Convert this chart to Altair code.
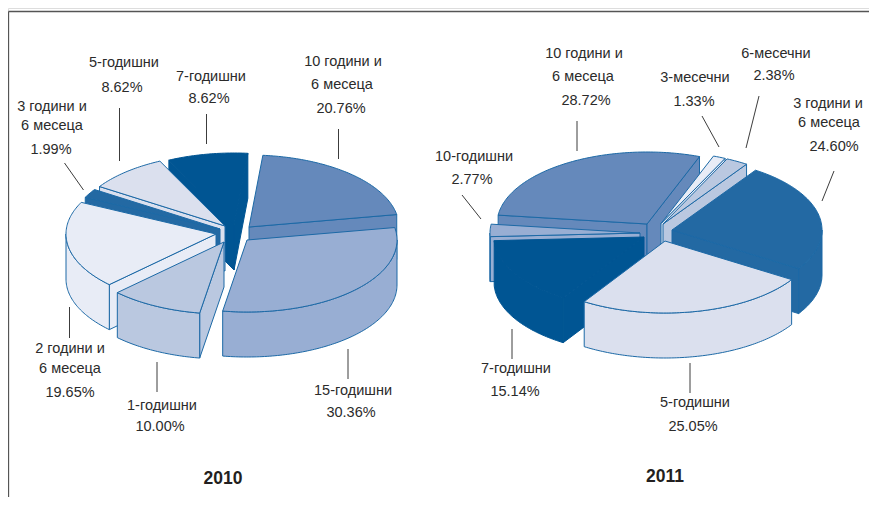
import math
import altair as alt
import pandas as pd

# ---- chart values (share of each maturity, per cent, clockwise order) ----
names_2010 = ["10 години и 6 месеца", "15-годишни", "1-годишни", "2 години и 6 месеца",
              "3 години и 6 месеца", "5-годишни", "7-годишни"]
values_2010 = [20.76, 30.36, 10.00, 19.65, 1.99, 8.62, 8.62]
names_2011 = ["10 години и 6 месеца", "3-месечни", "6-месечни", "3 години и 6 месеца",
              "5-годишни", "7-годишни", "10-годишни"]
values_2011 = [28.72, 1.33, 2.38, 24.60, 25.05, 15.14, 2.77]

# ---- layout: page-pixel frame, pie projection, explosion centres, styling ----
W, H = 861, 489
RX, RY, DEPTH = 150, 72, 45
colors = {"10 години и 6 месеца": "#6589bb", "15-годишни": "#98aed3", "1-годишни": "#bac8e0",
          "2 години и 6 месеца": "#e8ecf6", "3 години и 6 месеца": "#2369a3", "5-годишни": "#dbe0ee",
          "7-годишни": "#005593", "3-месечни": "#e8ecf6", "6-месечни": "#bac8e0", "10-годишни": "#98aed3"}
EDGE = "#1c69a6"

# start angle (deg clockwise from top) of first slice, apex of every slice, paint order
pie_2010 = dict(names=names_2010, values=values_2010, start=5.3,
                apex={"10 години и 6 месеца": (249, 227), "15-годишни": (247, 240), "1-годишни": (224, 242),
                      "2 години и 6 месеца": (216, 234), "3 години и 6 месеца": (220, 229),
                      "5-годишни": (225, 226), "7-годишни": (234, 225)},
                order=["7-годишни", "5-годишни", "3 години и 6 месеца", "2 години и 6 месеца",
                       "10 години и 6 месеца", "1-годишни", "15-годишни"])
pie_2011 = dict(names=names_2011, values=values_2011, start=277.1,
                apex={"10 години и 6 месеца": (647, 224), "3-месечни": (661, 223.5), "6-месечни": (663, 224),
                      "3 години и 6 месеца": (672, 230), "5-годишни": (665, 241), "7-годишни": (644, 237),
                      "10-годишни": (640, 233)},
                order=["10 години и 6 месеца", "3-месечни", "6-месечни", "10-годишни",
                       "3 години и 6 месеца", "7-годишни", "5-годишни"])


def polygons(pie, tag):
    spans, a = {}, pie["start"]
    for n, v in zip(pie["names"], pie["values"]):
        spans[n] = (a, a + v * 3.6)
        a += v * 3.6
    out = []

    def add(pid, pts, fill):
        stroke = fill if fill == colors["7-годишни"] else EDGE
        for i, (x, y) in enumerate(pts + pts[:1]):
            out.append(dict(poly=pid, i=i, x=x, y=y, fill=fill, stroke=stroke))

    for k, n in enumerate(pie["order"]):
        a, b = spans[n]
        ax, ay = pie["apex"][n]
        fill = colors[n]

        def rim(t, dz=0):
            r = math.radians(t)
            return (ax + RX * math.sin(r), ay - RY * math.cos(r) + dz)

        def arc(t0, t1, dz=0):
            steps = max(2, int(abs(t1 - t0)))
            return [rim(t0 + (t1 - t0) * j / steps, dz) for j in range(steps + 1)]

        base = f"{tag}{k:02d}"
        if math.sin(math.radians(a)) < 0:  # leading radial wall faces the viewer
            p = rim(a)
            add(base + "a", [(ax, ay), p, (p[0], p[1] + DEPTH), (ax, ay + DEPTH)], fill)
        if math.sin(math.radians(b)) > 0:  # trailing radial wall faces the viewer
            p = rim(b)
            add(base + "b", [(ax, ay), p, (p[0], p[1] + DEPTH), (ax, ay + DEPTH)], fill)
        for off in (0, 360):  # outer wall: front half of the rim only
            lo, hi = max(a, 90 + off), min(b, 270 + off)
            if hi > lo:
                add(base + f"c{off}", arc(lo, hi) + arc(hi, lo, DEPTH), fill)
        add(base + "d", [(ax, ay)] + arc(a, b), fill)
    return out


rows = polygons(pie_2010, "A") + polygons(pie_2011, "B")
df = pd.DataFrame(rows)

# ---- label text with its page position ----
label_text = [
    ("10 години и", 343, 62), ("6 месеца", 342, 85), ("20.76%", 341, 109),
    ("5-годишни", 124, 63), ("8.62%", 122, 88),
    ("7-годишни", 211, 77), ("8.62%", 209, 99),
    ("3 години и", 52, 107), ("6 месеца", 52, 126), ("1.99%", 51, 150),
    ("2 години и", 70, 349), ("6 месеца", 70, 369), ("19.65%", 70, 393),
    ("1-годишни", 162, 406), ("10.00%", 160, 427),
    ("15-годишни", 353, 391), ("30.36%", 351, 413),
    ("10 години и", 584, 54), ("6 месеца", 583, 77), ("28.72%", 586, 101),
    ("3-месечни", 695, 78), ("1.33%", 694, 102),
    ("6-месечни", 776, 54), ("2.38%", 774, 76),
    ("3 години и", 828, 104), ("6 месеца", 829, 123), ("24.60%", 834, 147),
    ("10-годишни", 474, 157), ("2.77%", 472, 180),
    ("7-годишни", 516, 369), ("15.14%", 515, 392),
    ("5-годишни", 695, 403), ("25.05%", 693, 427),
]
titles = [("2010", 223, 479), ("2011", 665, 477)]
leaders = [
    (119.5, 108, 119.5, 161), (206.5, 114, 206.5, 144), (338.5, 129, 338.5, 159),
    (64.5, 163, 83.5, 190), (69.5, 307, 69.5, 338), (157, 362, 157, 392), (348, 349, 348, 379),
    (577, 121, 577, 151), (702, 116, 719, 147), (759, 96, 746, 148), (834, 171, 822, 201),
    (462, 195, 481, 219), (512, 329, 512, 359), (690, 363, 690, 393),
]
frame = [(8.5, 11.5, 869, 11.5), (8.5, 11.5, 8.5, 497)]

xs = alt.Scale(domain=[8, 8 + W], range=[0, W], nice=False, zero=False)
ys = alt.Scale(domain=[8, 8 + H], range=[0, H], nice=False, zero=False)
X = lambda f="x": alt.X(f"{f}:Q", scale=xs, axis=None)
Y = lambda f="y": alt.Y(f"{f}:Q", scale=ys, axis=None)

pies = alt.Chart(df).mark_line(strokeWidth=1, strokeJoin="round").encode(
    x=X(), y=Y(), detail="poly:N", order="i:Q",
    fill=alt.Fill("fill:N", scale=None), stroke=alt.Stroke("stroke:N", scale=None),
)


def segs(data, color, width):
    d = pd.DataFrame(data, columns=["x", "y", "x2", "y2"])
    return alt.Chart(d).mark_rule(color=color, strokeWidth=width).encode(
        x=X(), y=Y(), x2="x2:Q", y2="y2:Q")


lines = segs(leaders, "#3c3c3c", 1)
border = segs(frame, "#555555", 1.3)

labels = alt.Chart(pd.DataFrame(label_text, columns=["t", "x", "y"])).mark_text(
    font="Liberation Sans", fontSize=14.5, color="#2b2b2b", align="center", baseline="middle"
).encode(x=X(), y=Y(), text="t:N")
heads = alt.Chart(pd.DataFrame(titles, columns=["t", "x", "y"])).mark_text(
    font="Liberation Sans", fontSize=17.5, fontWeight="bold", color="#231f20", align="center", baseline="middle"
).encode(x=X(), y=Y(), text="t:N")

chart = alt.layer(border, lines, pies, labels, heads).properties(
    width=W, height=H, padding=0, autosize=alt.AutoSizeParams(type="none")
).configure_view(stroke=None).configure(background="white")

chart.save("out.html", embed_options={"renderer": "svg", "actions": False})
